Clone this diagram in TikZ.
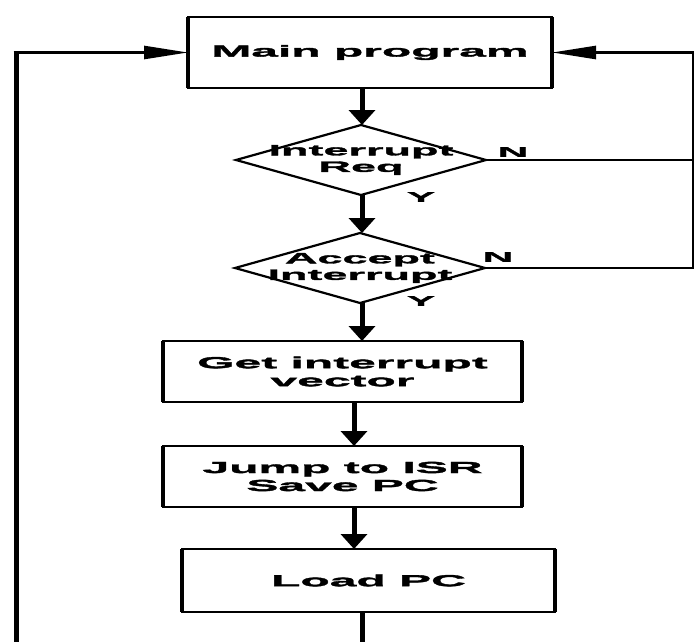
\documentclass[tikz,border=0pt]{standalone}
\usepackage{fontspec}
\newfontfamily\wf[FakeStretch=3.0,BoldFeatures={FakeBold=2.2}]{Liberation Sans}
\usetikzlibrary{arrows.meta,shapes.geometric}
\begin{document}
\begin{tikzpicture}[x=1pt,y=-1pt,
  box/.style={draw,line width=2.4pt,outer sep=0pt,inner sep=0pt,align=center,
    font=\wf\bfseries\fontsize{16}{18}\selectfont},
  dia/.style={draw,diamond,line width=2.2pt,outer sep=0pt,minimum width=250pt,minimum height=70pt,inner sep=0pt},
  dtext/.style={align=center,inner sep=0pt,font=\wf\bfseries\fontsize{15}{16.5}\selectfont},
  lab/.style={inner sep=0pt,font=\wf\bfseries\fontsize{14}{16}\selectfont},
  varrow/.style={line width=5pt,-{Triangle[length=15pt,width=26pt]}},
  harrow/.style={line width=2.6pt,-{Triangle[length=44pt,width=13pt]}},
  vline/.style={line width=5pt},
  rline/.style={line width=2pt},
  side/.style={line width=4.6pt}
]
\useasboundingbox (0,0) rectangle (696,642);
\fill[white] (0,0) rectangle (696,642);
% nodes
\node[box,minimum width=364pt,minimum height=71pt] (main) at (370,52.5) {Main program};
\node[dia] (d1) at (361,160) {};
\node[dtext] (d1t) at (d1.center) {Interrupt\\Req};
\node[dia] (d2) at (360,268) {};
\node[dtext] (d2t) at (d2.center) {Accept\\Interrupt};
\node[box,minimum width=359pt,minimum height=61pt] (get) at (342.5,371.5) {Get interrupt\\vector};
\node[box,minimum width=359pt,minimum height=61pt] (jump) at (342.5,476.5) {Jump to ISR\\Save PC};
\node[box,minimum width=373pt,minimum height=63pt] (load) at (368.5,580.5) {Load PC};
\foreach \n in {main,get,jump,load}
  \draw[side] (\n.north west) -- (\n.south west) (\n.north east) -- (\n.south east);
% labels
\node[lab] (n1) at (513,152) {N};
\node[lab] (y1) at (421,197) {Y};
\node[lab] (n2) at (498,257) {N};
\node[lab] (y2) at (421,301) {Y};
% coordinates
\coordinate (ca) at (362,0);
\coordinate (cb) at (354,0);
\coordinate (lb) at (16,642);
\coordinate (rt) at (693,52.5);
\coordinate (bt) at (362,642);
% vertical flow
\draw[varrow] (main.south -| ca) -- (d1.north -| ca);
\draw[varrow] (d1.south -| ca) -- (d2.north -| ca);
\draw[varrow] (d2.south -| ca) -- (get.north -| ca);
\draw[varrow] (get.south -| cb) -- (jump.north -| cb);
\draw[varrow] (jump.south -| cb) -- (load.north -| cb);
\draw[vline] (load.south -| bt) -- (bt);
% left return
\draw[vline] (lb) -- (lb |- main.west);
\draw[harrow] ([xshift=-2.5pt]lb |- main.west) -- (main.west);
% right N branches
\draw[rline] (d1.east) -- (d1.east -| rt);
\draw[rline] (d2.east) -- (d2.east -| rt) -- ([yshift=-1.3pt]rt);
\draw[harrow] ([xshift=1pt]rt) -- (main.east);
\end{tikzpicture}
\end{document}
